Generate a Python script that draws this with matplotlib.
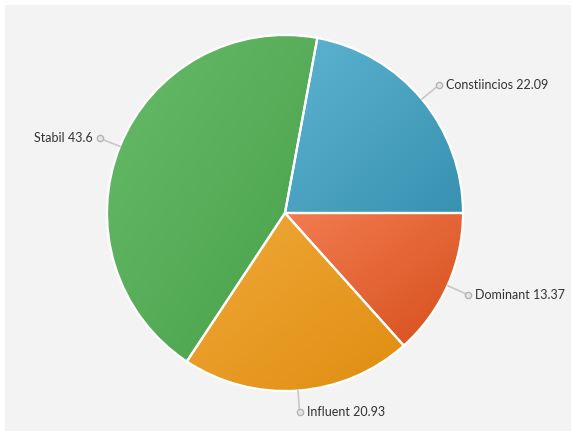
"""
Pie chart of personality type scores with gradient slices and
outside labels joined by small leader lines.
"""
import numpy as np
import matplotlib.pyplot as plt
from matplotlib.colors import to_rgb
from matplotlib.patches import Rectangle

# slice data
labels = ['Constiincios', 'Stabil', 'Influent', 'Dominant']
values = [22.09, 43.6, 20.93, 13.37]

# colours (light top-left, dark bottom-right)
light = ['#5cb4d1', '#67bb6a', '#f1aa3b', '#f17c51']
dark = ['#3891b0', '#48a048', '#df8d10', '#d74f1b']

W, H = 576, 436


def gradient_fill(ax, wedge, c1, c2):
    """Fill a wedge with a diagonal gradient clipped to its shape."""
    th = np.radians(np.linspace(wedge.theta1, wedge.theta2, 100))
    cx, cy = wedge.center
    xs = np.concatenate([[cx], cx + wedge.r * np.cos(th)])
    ys = np.concatenate([[cy], cy + wedge.r * np.sin(th)])
    x0, x1, y0, y1 = xs.min(), xs.max(), ys.min(), ys.max()
    n = 200
    xn, yn = np.meshgrid(np.linspace(0, 1, n), np.linspace(0, 1, n))
    t = 0.5 * xn + 0.5 * (1 - yn)
    a, b = np.array(to_rgb(c1)), np.array(to_rgb(c2))
    img = a + (b - a) * t[..., None]
    im = ax.imshow(img, extent=(x0, x1, y0, y1), origin='lower',
                   interpolation='bilinear', zorder=1)
    im.set_clip_path(wedge)


def main():
    fig = plt.figure(figsize=(W / 100, H / 100), dpi=100)
    fig.patch.set_facecolor('white')
    ax = fig.add_axes([0, 0, 1, 1])

    # grey panel
    ax.add_patch(Rectangle((5, 5), 566, 426, facecolor='#f3f3f3',
                           edgecolor='none', zorder=0))

    cx, cy, r = 285, 223, 178
    wedges, _ = ax.pie(values, radius=r, center=(cx, cy), startangle=0,
                       counterclock=True, colors=light,
                       wedgeprops=dict(edgecolor='white', linewidth=1.6))

    for w, c1, c2, lab, v in zip(wedges, light, dark, labels, values):
        gradient_fill(ax, w, c1, c2)
        w.set_facecolor('none')
        w.set_zorder(2)

        # leader line and label
        mid = np.radians((w.theta1 + w.theta2) / 2)
        ex, ey = cx + r * np.cos(mid), cy + r * np.sin(mid)
        mx, my = cx + 200 * np.cos(mid), cy + 200 * np.sin(mid)
        ax.plot([ex, mx], [ey, my], color='#c8c8c8', lw=1.2, zorder=3)
        ax.plot(mx, my, 'o', ms=4.5, mfc='#e6e6e6', mec='#b4b4b4',
                mew=1, zorder=4)
        right = np.cos(mid) >= 0
        ax.text(mx + (7 if right else -7), my, f'{lab} {v}',
                ha='left' if right else 'right', va='center',
                fontsize=9, family='Lato', color='#333333', zorder=5)

    ax.set_xlim(0, W)
    ax.set_ylim(0, H)
    ax.set_aspect('equal')
    ax.axis('off')
    fig.savefig('out.png', dpi=100)


if __name__ == '__main__':
    main()
